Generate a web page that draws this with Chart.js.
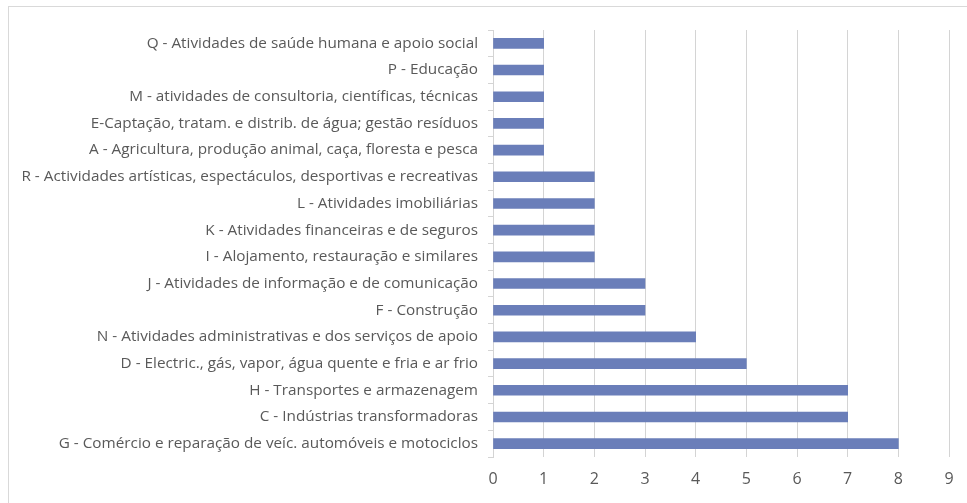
<!DOCTYPE html>
<html>
<head>
<meta charset="utf-8">
<script src="https://cdn.jsdelivr.net/npm/chart.js@4.4.1/dist/chart.umd.min.js"></script>
<style>
  html, body { margin: 0; padding: 0; background: #fff; overflow: hidden; }
  #wrap { position: relative; width: 967px; height: 503px; }
  #frame { position: absolute; left: 8px; top: 6px; width: 1000px; height: 540px;
           border: 1px solid #d9d9d9; pointer-events: none; }
  canvas { position: absolute; left: 0; top: 0; }
</style>
</head>
<body>
<div id="wrap">
  <div id="frame"></div>
  <canvas id="chart" width="967" height="503"></canvas>
</div>
<script>
// ---- Data ----
const sectors = [
  "Q - Atividades de saúde humana e apoio social",
  "P - Educação",
  "M - atividades de consultoria, científicas, técnicas",
  "E-Captação, tratam. e distrib. de água; gestão resíduos",
  "A - Agricultura, produção animal, caça, floresta e pesca",
  "R - Actividades artísticas, espectáculos, desportivas e recreativas",
  "L - Atividades imobiliárias",
  "K - Atividades financeiras e de seguros",
  "I - Alojamento, restauração e similares",
  "J - Atividades de informação e de comunicação",
  "F - Construção",
  "N - Atividades administrativas e dos serviços de apoio",
  "D - Electric., gás, vapor, água quente e fria e ar frio",
  "H - Transportes e armazenagem",
  "C - Indústrias transformadoras",
  "G - Comércio e reparação de veíc. automóveis e motociclos"
];
const counts = [1, 1, 1, 1, 1, 2, 2, 2, 2, 3, 3, 4, 5, 7, 7, 8];
const xMin = 0, xMax = 9;

const gridColor = "#d4d4d4";
const textColor = "#595959";
const fontFamily = "'Open Sans', sans-serif";

// ---- Chart ----
new Chart(document.getElementById("chart"), {
  type: "bar",
  data: {
    labels: sectors,
    datasets: [{
      data: counts,
      backgroundColor: "#6a7eb9",
      borderWidth: 0,
      barThickness: 10
    }]
  },
  options: {
    indexAxis: "y",
    animation: false,
    responsive: false,
    layout: { padding: { top: 30, right: 18, bottom: 0, left: 0 } },
    plugins: { legend: { display: false }, tooltip: { enabled: false } },
    scales: {
      x: {
        min: xMin,
        max: xMax,
        ticks: { stepSize: 1, color: textColor, font: { family: fontFamily, size: 16 }, padding: 13 },
        grid: { color: gridColor, drawTicks: false },
        border: { display: false },
        afterFit: s => { s.height = 46; }
      },
      y: {
        offset: true,
        ticks: { color: textColor, font: { family: fontFamily, size: 15.3 }, padding: 10, autoSkip: false },
        grid: { offset: true, drawOnChartArea: false, color: gridColor, tickLength: 5 },
        border: { display: true, color: gridColor },
        afterFit: s => { s.width = 493; }
      }
    }
  }
});
</script>
</body>
</html>
